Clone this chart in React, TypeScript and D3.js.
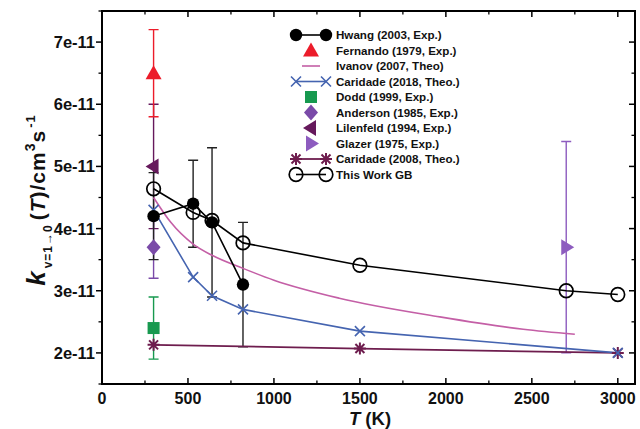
import * as React from "react";
import * as d3 from "d3";

// values in cm^3 s^-1, temperatures in K
const hwangT: number[] = [300, 530, 640, 820];
const hwangK: number[] = [4.2e-11, 4.4e-11, 4.1e-11, 3.1e-11];
const hwangErr: number[] = [0.7e-11, 0.7e-11, 1.2e-11, 1.0e-11];

const fernandoT: number[] = [300];
const fernandoK: number[] = [6.5e-11];
const fernandoErr: number[] = [0.7e-11];

const ivanovT: number[] = [300, 400, 530, 640, 820, 1000, 1380, 1965, 2450, 2750];
const ivanovK: number[] = [4.5e-11, 4.1e-11, 3.75e-11, 3.57e-11, 3.36e-11, 3.17e-11, 2.88e-11, 2.58e-11, 2.38e-11, 2.3e-11];

const caridade18T: number[] = [300, 530, 640, 820, 1500, 3000];
const caridade18K: number[] = [4.3e-11, 3.22e-11, 2.92e-11, 2.7e-11, 2.35e-11, 2.0e-11];

const doddT: number[] = [300];
const doddK: number[] = [2.4e-11];
const doddErr: number[] = [0.5e-11];

const andersonT: number[] = [300];
const andersonK: number[] = [3.7e-11];
const andersonErr: number[] = [0.5e-11];

const lilenfeldT: number[] = [300];
const lilenfeldK: number[] = [5.0e-11];
const lilenfeldErr: number[] = [1.0e-11];

const glazerT: number[] = [2700];
const glazerK: number[] = [3.7e-11];
const glazerErr: number[] = [1.7e-11];

const caridade08T: number[] = [300, 1500, 3000];
const caridade08K: number[] = [2.13e-11, 2.07e-11, 2.0e-11];

const thisWorkT: number[] = [300, 530, 640, 820, 1500, 2700, 3000];
const thisWorkK: number[] = [4.64e-11, 4.26e-11, 4.13e-11, 3.77e-11, 3.41e-11, 3.0e-11, 2.94e-11];

const xTicks: number[] = [0, 500, 1000, 1500, 2000, 2500, 3000];
const yTicks: number[] = [2e-11, 3e-11, 4e-11, 5e-11, 6e-11, 7e-11];

const legendLabels: string[] = [
    "Hwang (2003, Exp.)",
    "Fernando (1979, Exp.)",
    "Ivanov (2007, Theo)",
    "Caridade (2018, Theo.)",
    "Dodd (1999, Exp.)",
    "Anderson (1985, Exp.)",
    "Lilenfeld (1994, Exp.)",
    "Glazer (1975, Exp.)",
    "Caridade (2008, Theo.)",
    "This Work GB"
];

const black: string = "#000000";
const red: string = "#ec1c2a";
const pink: string = "#c45fa6";
const blue: string = "#4564b0";
const green: string = "#17994f";
const purple: string = "#7a4aa8";
const plum: string = "#66195c";
const violet: string = "#8d5cbf";
const maroon: string = "#6e1d4e";

const font: string = "'Liberation Sans', Arial, Helvetica, sans-serif";

type Sel = d3.Selection<SVGGElement, unknown, null, undefined>;

const W: number = 640;
const H: number = 429;
const margin = { top: 11, right: 5, bottom: 45, left: 102 };

function zip(t: number[], k: number[]): [number, number][] {
    return t.map((d: number, i: number): [number, number] => [d, k[i]]);
}

function drawMarker(g: Sel, kind: string, x: number, y: number, color: string): void {
    switch (kind) {
        case "circle":
            g.append("circle").attr("cx", x).attr("cy", y).attr("r", 6.2).attr("fill", color);
            break;
        case "open":
            g.append("circle").attr("cx", x).attr("cy", y).attr("r", 6.8)
                .attr("fill", "none").attr("stroke", color).attr("stroke-width", 1.7);
            break;
        case "up":
            g.append("path").attr("d", `M${x},${y - 8}L${x + 8},${y + 6}L${x - 8},${y + 6}Z`).attr("fill", color);
            break;
        case "left":
            g.append("path").attr("d", `M${x - 8},${y}L${x + 5},${y - 8}L${x + 5},${y + 8}Z`).attr("fill", color);
            break;
        case "right":
            g.append("path").attr("d", `M${x + 8},${y}L${x - 5},${y - 8}L${x - 5},${y + 8}Z`).attr("fill", color);
            break;
        case "square":
            g.append("rect").attr("x", x - 6).attr("y", y - 6).attr("width", 12).attr("height", 12).attr("fill", color);
            break;
        case "diamond":
            g.append("path").attr("d", `M${x},${y - 8}L${x + 7},${y}L${x},${y + 8}L${x - 7},${y}Z`).attr("fill", color);
            break;
        case "x":
            g.append("path").attr("d", `M${x - 5},${y - 5}L${x + 5},${y + 5}M${x - 5},${y + 5}L${x + 5},${y - 5}`)
                .attr("stroke", color).attr("stroke-width", 1.6);
            break;
        case "star":
            g.append("path")
                .attr("d", `M${x - 6},${y}L${x + 6},${y}M${x},${y - 6}L${x},${y + 6}M${x - 4.5},${y - 4.5}L${x + 4.5},${y + 4.5}M${x - 4.5},${y + 4.5}L${x + 4.5},${y - 4.5}`)
                .attr("stroke", color).attr("stroke-width", 2);
            break;
        default:
            break;
    }
}

export default function App(): JSX.Element {
    const ref = React.useRef<SVGSVGElement>(null);

    React.useEffect(() => {
        const svg = d3.select(ref.current);
        svg.selectAll("*").remove();

        const x = d3.scaleLinear().domain([0, 3100]).range([margin.left, W - margin.right]);
        const y = d3.scaleLinear().domain([1.5e-11, 7.5e-11]).range([H - margin.bottom, margin.top]);
        const x0: number = margin.left;
        const x1: number = W - margin.right;
        const y0: number = H - margin.bottom;
        const y1: number = margin.top;

        const root: Sel = svg.append("g");

        // error bars
        const errG: Sel = root.append("g");
        const errBars = (t: number[], k: number[], e: number[], color: string): void => {
            t.forEach((tv: number, i: number) => {
                const cx: number = x(tv);
                const lo: number = y(k[i] - e[i]);
                const hi: number = y(k[i] + e[i]);
                errG.append("path")
                    .attr("d", `M${cx},${lo}L${cx},${hi}M${cx - 5},${lo}L${cx + 5},${lo}M${cx - 5},${hi}L${cx + 5},${hi}`)
                    .attr("stroke", color).attr("stroke-width", 1.4).attr("fill", "none");
            });
        };
        errBars(lilenfeldT, lilenfeldK, lilenfeldErr, plum);
        errBars(fernandoT, fernandoK, fernandoErr, red);
        errBars(andersonT, andersonK, andersonErr, purple);
        errBars(doddT, doddK, doddErr, green);
        errBars(hwangT, hwangK, hwangErr, "#222");
        errBars(glazerT, glazerK, glazerErr, violet);

        // lines
        const line = d3.line<[number, number]>().x((d) => x(d[0])).y((d) => y(d[1]));
        const smooth = d3.line<[number, number]>().x((d) => x(d[0])).y((d) => y(d[1])).curve(d3.curveMonotoneX);
        const lineG: Sel = root.append("g").attr("fill", "none");
        lineG.append("path").attr("d", line(zip(caridade08T, caridade08K))).attr("stroke", maroon).attr("stroke-width", 1.8);
        lineG.append("path").attr("d", smooth(zip(ivanovT, ivanovK))).attr("stroke", pink).attr("stroke-width", 1.6);
        lineG.append("path").attr("d", line(zip(caridade18T, caridade18K))).attr("stroke", blue).attr("stroke-width", 1.6);
        lineG.append("path").attr("d", line(zip(hwangT, hwangK))).attr("stroke", black).attr("stroke-width", 1.6);
        lineG.append("path").attr("d", line(zip(thisWorkT, thisWorkK))).attr("stroke", black).attr("stroke-width", 1.6);

        // markers
        const mG: Sel = root.append("g");
        const marks = (t: number[], k: number[], kind: string, color: string): void => {
            t.forEach((tv: number, i: number) => drawMarker(mG, kind, x(tv), y(k[i]), color));
        };
        marks(doddT, doddK, "square", green);
        marks(caridade08T, caridade08K, "star", maroon);
        marks(andersonT, andersonK, "diamond", purple);
        marks(caridade18T, caridade18K, "x", blue);
        marks(hwangT, hwangK, "circle", black);
        marks(thisWorkT, thisWorkK, "open", black);
        marks(lilenfeldT, lilenfeldK, "left", plum);
        marks(fernandoT, fernandoK, "up", red);
        marks(glazerT, glazerK, "right", violet);

        // frame and ticks
        const axG: Sel = root.append("g").attr("stroke", black).attr("fill", "none");
        axG.append("rect").attr("x", x0).attr("y", y1).attr("width", x1 - x0).attr("height", y0 - y1)
            .attr("stroke-width", 2);
        const xMinor: number[] = d3.range(250, 3100, 500);
        const yMinor: number[] = d3.range(1.5e-11, 7.6e-11, 1e-11);
        xTicks.forEach((t: number) => {
            axG.append("line").attr("x1", x(t)).attr("x2", x(t)).attr("y1", y0).attr("y2", y0 - 6).attr("stroke-width", 1.5);
            axG.append("line").attr("x1", x(t)).attr("x2", x(t)).attr("y1", y1).attr("y2", y1 + 6).attr("stroke-width", 1.5);
        });
        xMinor.forEach((t: number) => {
            axG.append("line").attr("x1", x(t)).attr("x2", x(t)).attr("y1", y0).attr("y2", y0 - 3.5).attr("stroke-width", 1.3);
            axG.append("line").attr("x1", x(t)).attr("x2", x(t)).attr("y1", y1).attr("y2", y1 + 3.5).attr("stroke-width", 1.3);
        });
        yTicks.forEach((v: number) => {
            axG.append("line").attr("x1", x0).attr("x2", x0 - 6).attr("y1", y(v)).attr("y2", y(v)).attr("stroke-width", 1.5);
            axG.append("line").attr("x1", x1).attr("x2", x1 - 6).attr("y1", y(v)).attr("y2", y(v)).attr("stroke-width", 1.5);
        });
        yMinor.forEach((v: number) => {
            axG.append("line").attr("x1", x0).attr("x2", x0 - 3.5).attr("y1", y(v)).attr("y2", y(v)).attr("stroke-width", 1.3);
            axG.append("line").attr("x1", x1).attr("x2", x1 - 3.5).attr("y1", y(v)).attr("y2", y(v)).attr("stroke-width", 1.3);
        });

        const txtG: Sel = root.append("g").attr("font-family", font).attr("font-weight", "bold").attr("fill", "#111");
        xTicks.forEach((t: number) => {
            txtG.append("text").attr("x", x(t)).attr("y", y0 + 20).attr("text-anchor", "middle")
                .attr("font-size", 16).text(String(t));
        });
        yTicks.forEach((v: number) => {
            txtG.append("text").attr("x", x0 - 7).attr("y", y(v) + 6).attr("text-anchor", "end")
                .attr("font-size", 16.5).text(`${Math.round(v * 1e11)}e-11`);
        });

        // axis titles
        const xt = txtG.append("text").attr("x", 370).attr("y", 425).attr("text-anchor", "middle").attr("font-size", 18.5);
        xt.append("tspan").attr("font-style", "italic").text("T");
        xt.append("tspan").text(" (K)");

        const yt = txtG.append("text").attr("transform", "translate(45,200) rotate(-90)")
            .attr("text-anchor", "middle").attr("font-size", 21).attr("letter-spacing", 1);
        yt.append("tspan").attr("font-style", "italic").attr("font-size", 26).text("k");
        yt.append("tspan").attr("font-size", 12).attr("dy", 7).attr("dx", 2).text("v=1\u21920");
        yt.append("tspan").attr("dy", -7).attr("dx", 4).text("(");
        yt.append("tspan").attr("font-style", "italic").text("T");
        yt.append("tspan").text(")/cm");
        yt.append("tspan").attr("font-size", 14).attr("dy", -10).text("3");
        yt.append("tspan").attr("dy", 10).text("s");
        yt.append("tspan").attr("font-size", 13).attr("dy", -10).attr("dx", 2).text("-1");

        // legend
        const lg: Sel = root.append("g");
        const lx0: number = 296;
        const lx1: number = 326;
        const lmid: number = 311;
        const ly0: number = 35;
        const step: number = 15.5;
        const entries: { color: string; kind: string; line: boolean; w: number }[] = [
            { color: black, kind: "circle", line: true, w: 1.6 },
            { color: red, kind: "up", line: false, w: 0 },
            { color: pink, kind: "", line: true, w: 1.6 },
            { color: blue, kind: "x", line: true, w: 1.6 },
            { color: green, kind: "square", line: false, w: 0 },
            { color: purple, kind: "diamond", line: false, w: 0 },
            { color: plum, kind: "left", line: false, w: 0 },
            { color: violet, kind: "right", line: false, w: 0 },
            { color: maroon, kind: "star", line: true, w: 1.8 },
            { color: black, kind: "open", line: true, w: 1.6 }
        ];
        entries.forEach((e, i: number) => {
            const ly: number = ly0 + i * step;
            if (e.line) {
                const a: number = e.kind === "" ? lx0 + 6 : lx0;
                const b: number = e.kind === "" ? lx1 - 6 : lx1;
                lg.append("line").attr("x1", a).attr("x2", b).attr("y1", ly).attr("y2", ly)
                    .attr("stroke", e.color).attr("stroke-width", e.w);
                if (e.kind !== "") {
                    drawMarker(lg, e.kind, lx0, ly, e.color);
                    drawMarker(lg, e.kind, lx1, ly, e.color);
                }
            } else {
                drawMarker(lg, e.kind, lmid, ly, e.color);
            }
            lg.append("text").attr("x", 336).attr("y", ly + 4).attr("font-family", font)
                .attr("font-weight", "bold").attr("font-size", 11.6).attr("fill", "#111")
                .text(legendLabels[i]);
        });
    }, []);

    return (
        <svg ref={ref} width={W} height={H}
            style={{ position: "absolute", left: 0, top: 0, background: "#fff" }} />
    );
}
